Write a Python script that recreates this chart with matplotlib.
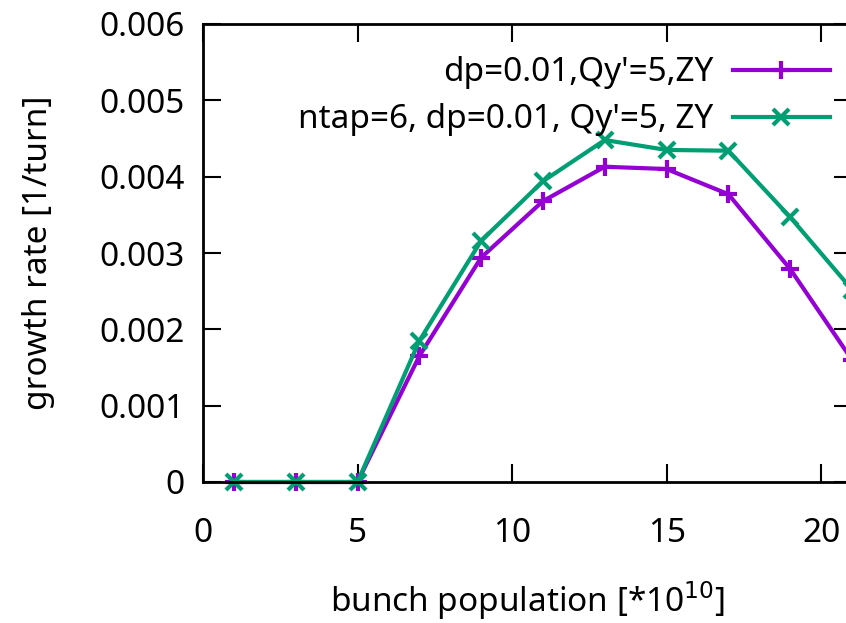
import matplotlib
matplotlib.use("Agg")
import matplotlib.pyplot as plt

x = [1, 3, 5, 7, 9, 11, 13, 15, 17, 19, 21]
purple_y = [0, 0, 0, 0.00165, 0.00294, 0.00368, 0.00413, 0.00410, 0.00377, 0.00279, 0.00160]
green_y = [0, 0, 0, 0.00185, 0.00316, 0.00394, 0.00448, 0.00435, 0.00434, 0.00347, 0.00252]
label_purple = "dp=0.01,Qy'=5,ZY"
label_green = "ntap=6, dp=0.01, Qy'=5, ZY"
xticks = [0, 5, 10, 15, 20]
yticks = [0, 0.001, 0.002, 0.003, 0.004, 0.005, 0.006]
ytick_labels = ["0", "0.001", "0.002", "0.003", "0.004", "0.005", "0.006"]

plt.rcParams['font.family'] = ['Noto Sans', 'DejaVu Sans']
fs = 24

fig = plt.figure(figsize=(8.46, 6.23), dpi=100)
ax = fig.add_axes([203/846, (623-482)/623, (852-203)/846, (482-24)/623])

ax.plot(x, purple_y, color='#9400D3', lw=3, marker='+', ms=13, mew=3,
        label=label_purple, clip_on=False)
ax.plot(x, green_y, color='#009E73', lw=3, marker='x', ms=11, mew=3,
        label=label_green, clip_on=False)

ax.set_xlim(0, 21)
ax.set_ylim(0, 0.006)
ax.set_xticks(xticks)
ax.set_yticks(yticks)
ax.set_yticklabels(ytick_labels)
ax.tick_params(direction='in', length=13, width=1.5, labelsize=fs,
               top=True, right=True)
ax.tick_params(axis='x', pad=25)
ax.tick_params(axis='y', pad=13)
for s in ax.spines.values():
    s.set_linewidth(2)

ax.set_xlabel("bunch population [*10$^{10}$]", fontsize=fs)
ax.set_ylabel("growth rate [1/turn]", fontsize=fs)
ax.yaxis.set_label_coords(-0.228, 0.5)
ax.xaxis.set_label_coords(0.50, -0.212)

leg = ax.legend(loc='upper right', frameon=False, fontsize=fs, markerfirst=False,
                handlelength=2.9, bbox_to_anchor=(1.012, 0.995), labelspacing=0.42,
                handletextpad=0.6)
for t in leg.get_texts():
    t.set_ha('right')

fig.savefig("out.png", dpi=100)
